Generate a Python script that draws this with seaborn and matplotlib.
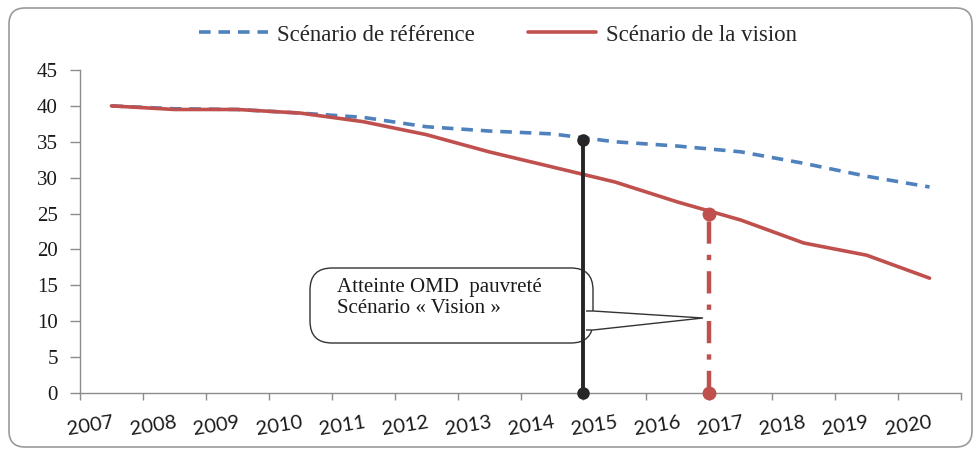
import numpy as np
import pandas as pd
import matplotlib
matplotlib.use("Agg")
import matplotlib.pyplot as plt
import matplotlib.transforms as mtransforms
from matplotlib.patches import FancyBboxPatch, Polygon
import seaborn as sns

# ----------------------------
# DATA
# ----------------------------
years = ["2007", "2008", "2009", "2010", "2011", "2012", "2013",
         "2014", "2015", "2016", "2017", "2018", "2019", "2020"]
ref_values = [40.0, 39.6, 39.5, 39.0, 38.4, 37.1, 36.5,
              36.1, 35.0, 34.4, 33.6, 32.0, 30.2, 28.7]
vision_values = [40.0, 39.5, 39.5, 39.0, 37.8, 36.0, 33.6,
                 31.5, 29.4, 26.6, 24.1, 20.9, 19.2, 16.0]

# vertical markers (category position, value reached)
ref_mark_pos, ref_mark_val = 7.5, 35.3
vis_mark_pos, vis_mark_val = 9.5, 25.0

callout_text = "Atteinte OMD  pauvreté\nScénario « Vision »"

BLUE = "#4F81BD"
RED = "#C0504D"
DARK = "#262626"

df = pd.DataFrame({"Année": years,
                   "ref": ref_values,
                   "vision": vision_values})

# ----------------------------
# FIGURE
# ----------------------------
sns.set_style("white")
plt.rcParams["font.family"] = ["Liberation Serif", "DejaVu Serif"]

W, H = 976, 454
fig = plt.figure(figsize=(W / 100, H / 100), dpi=100)
ax = fig.add_axes([80 / W, 1 - 393 / H, (961 - 80) / W, (393 - 70) / H])

sns.lineplot(data=df, x="Année", y="ref", ax=ax, color=BLUE, lw=2.6,
             linestyle=(0, (3.2, 2.2)), label="Scénario de référence", zorder=3)
sns.lineplot(data=df, x="Année", y="vision", ax=ax, color=RED, lw=2.6,
             label="Scénario de la vision", zorder=4)

# vertical indicator lines
ax.plot([ref_mark_pos, ref_mark_pos], [0, ref_mark_val], color=DARK, lw=2.8,
        marker="o", ms=8, zorder=5, clip_on=False)
ax.plot([vis_mark_pos, vis_mark_pos], [0, vis_mark_val], color=RED, lw=3.2,
        linestyle=(0, (5, 2.5, 1.2, 2.5)), marker="o", ms=9, zorder=5, clip_on=False)

# axes
ax.set_xlim(-0.5, len(years) - 0.5)
ax.set_ylim(0, 45)
ax.set_yticks(np.arange(0, 46, 5))
ax.set_xlabel("")
ax.set_ylabel("")
for s in ["top", "right"]:
    ax.spines[s].set_visible(False)
for s in ["left", "bottom"]:
    ax.spines[s].set_color("#8c8c8c")
    ax.spines[s].set_linewidth(1.0)

ax.tick_params(axis="y", left=True, length=7, width=1, color="#8c8c8c", pad=9,
               labelsize=15, labelcolor="#1a1a1a")
ax.set_xticks(np.arange(len(years)))
ax.set_xticklabels(years, rotation=9, fontsize=14.5, family="Lato", color="#1a1a1a")
ax.tick_params(axis="x", length=0, pad=15)
ax.set_xticks(np.arange(-0.5, len(years)), minor=True)
ax.tick_params(axis="x", which="minor", bottom=True, length=5, width=1, color="#8c8c8c")
offset = mtransforms.ScaledTranslation(-0.21, 0, fig.dpi_scale_trans)
for lab in ax.get_xticklabels():
    lab.set_transform(lab.get_transform() + offset)

# legend
leg = ax.legend(loc="center", bbox_to_anchor=(498 / W, 1 - 35 / H),
                bbox_transform=fig.transFigure, ncol=2, frameon=False,
                fontsize=16.5, handlelength=3.0, handletextpad=0.4,
                columnspacing=2.3)

# callout box (pixel geometry converted to data units)
def px(xp, yp):
    return ((xp - 80) / ((961 - 80) / len(years)) - 0.5, (393 - yp) * 45 / (393 - 70))

x0, y0 = px(310, 343)
x1, y1 = px(593, 268)
sx = (961 - 80) / len(years)
sy = (393 - 70) / 45
box = FancyBboxPatch((x0, y0), x1 - x0, y1 - y0,
                     boxstyle="round,pad=0,rounding_size=%f" % (22 / sx),
                     mutation_aspect=sx / sy, fc="white", ec="#333333",
                     lw=1.0, zorder=2)
ax.add_patch(box)
pointer = Polygon([px(586, 311), px(593, 311), px(703, 318),
                   px(593, 330), px(586, 330)],
                  closed=False, fc="white", ec="#333333", lw=1.0, zorder=2)
ax.add_patch(pointer)
tx, ty = px(337, 298)
ax.text(tx, ty, callout_text, fontsize=15, va="center", ha="left",
        linespacing=1.1, color="#1a1a1a", zorder=2.5)

# outer rounded frame
frame = FancyBboxPatch((9 / W, 1 - 447 / H), (972 - 9) / W, (447 - 8) / H,
                       boxstyle="round,pad=0,rounding_size=%f" % (16 / W),
                       mutation_aspect=W / H, transform=fig.transFigure,
                       fc="none", ec="#9a9a9a", lw=1.2)
fig.add_artist(frame)

fig.savefig("out.png", dpi=100)
